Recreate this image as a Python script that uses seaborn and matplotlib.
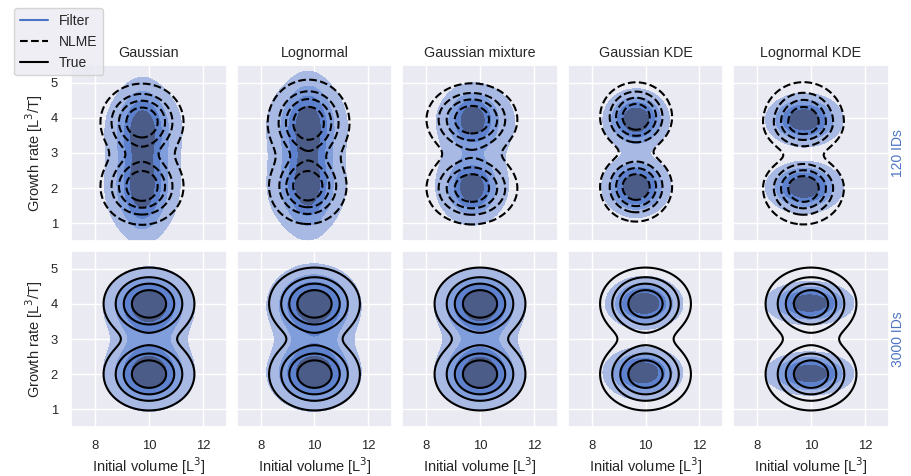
import numpy as np
import matplotlib
matplotlib.use("Agg")
import matplotlib.pyplot as plt
from matplotlib.lines import Line2D
import seaborn as sns

# ---------------- data ----------------
models = ["Gaussian", "Lognormal", "Gaussian mixture", "Gaussian KDE", "Lognormal KDE"]
row_labels = ["120 IDs", "3000 IDs"]
x_ticks = [8, 10, 12]
y_ticks = [1, 2, 3, 4, 5]
x_label = "Initial volume [L$^3$]"
y_label = "Growth rate [L$^3$/T]"
legend_labels = ["Filter", "NLME", "True"]
# contour heights as a fraction of each density's peak
density_levels = [0.12, 0.32, 0.52, 0.74]

# density bumps: (peak height, centre volume, centre growth,
#                 sd volume, sd growth below centre, sd growth above centre)
true_components = [
    (1.0, 10.0, 4.0, 0.82, 0.50, 0.50),
    (1.0, 10.0, 2.0, 0.82, 0.50, 0.50),
]

nlme_gaussian = [(1.0, 9.74, 3.88, 0.75, 0.53, 0.53), (1.0, 9.74, 2.05, 0.75, 0.53, 0.53)]
nlme_lognormal = [(1.0, 9.78, 3.85, 0.74, 0.58, 0.60), (1.0, 9.75, 2.05, 0.70, 0.52, 0.50)]
nlme_mixture = [(1.0, 9.70, 3.95, 0.82, 0.50, 0.50), (1.0, 9.70, 2.00, 0.82, 0.50, 0.50)]
nlme_gauss_kde = [(1.0, 9.65, 4.02, 0.65, 0.46, 0.48), (1.0, 9.65, 2.04, 0.65, 0.48, 0.46)]
nlme_logn_kde = [(1.0, 9.72, 3.88, 0.73, 0.44, 0.55), (1.0, 9.72, 2.00, 0.73, 0.50, 0.44)]

filter120_gaussian = [(0.45, 9.75, 3.70, 0.44, 0.72, 0.72), (0.45, 9.75, 2.00, 0.44, 0.78, 0.72),
                      (0.55, 9.80, 3.70, 0.82, 0.72, 0.72), (0.55, 9.75, 2.00, 0.80, 0.80, 0.72)]
filter120_lognormal = [(0.45, 9.78, 3.80, 0.44, 0.72, 0.74), (0.45, 9.76, 2.05, 0.44, 0.74, 0.72),
                       (0.55, 9.72, 3.80, 0.86, 0.72, 0.76), (0.55, 9.70, 2.05, 0.84, 0.76, 0.72)]
filter120_mixture = [(0.60, 9.70, 3.95, 0.45, 0.42, 0.42), (0.60, 9.70, 2.00, 0.45, 0.42, 0.42),
                     (0.40, 9.85, 3.90, 0.92, 0.65, 0.65), (0.40, 9.70, 2.05, 0.85, 0.65, 0.65)]
filter120_gauss_kde = [(1.0, 9.65, 3.94, 0.60, 0.43, 0.43), (1.0, 9.65, 2.05, 0.62, 0.43, 0.43)]
filter120_logn_kde = [(1.0, 9.75, 3.94, 0.70, 0.37, 0.37), (1.0, 9.75, 2.02, 0.70, 0.36, 0.36)]

filter3000_gaussian = [(1.0, 10.0, 4.0, 0.82, 0.50, 0.52), (1.0, 10.0, 2.0, 0.82, 0.52, 0.50),
                       (0.25, 10.0, 3.0, 0.90, 0.60, 0.60)]
filter3000_lognormal = [(1.0, 9.98, 4.0, 0.85, 0.52, 0.56), (1.0, 9.98, 2.0, 0.85, 0.52, 0.50),
                        (0.25, 10.0, 3.0, 0.90, 0.60, 0.60)]
filter3000_mixture = [(1.0, 10.0, 4.0, 0.82, 0.50, 0.50), (1.0, 10.0, 2.0, 0.82, 0.50, 0.50),
                      (0.20, 10.0, 3.0, 0.90, 0.60, 0.60)]
filter3000_gauss_kde = [(1.0, 9.95, 4.0, 0.70, 0.35, 0.38), (1.0, 9.90, 2.05, 0.72, 0.38, 0.35)]
filter3000_logn_kde = [(1.0, 9.95, 4.02, 0.80, 0.30, 0.30), (1.0, 9.95, 2.02, 0.80, 0.30, 0.30)]

nlme_rows = [nlme_gaussian, nlme_lognormal, nlme_mixture, nlme_gauss_kde, nlme_logn_kde]
filter_rows = [
    [filter120_gaussian, filter120_lognormal, filter120_mixture, filter120_gauss_kde, filter120_logn_kde],
    [filter3000_gaussian, filter3000_lognormal, filter3000_mixture, filter3000_gauss_kde, filter3000_logn_kde],
]

# ---------------- styling ----------------
sns.set_theme(style="darkgrid", context="notebook")
plt.rcParams["font.family"] = ["Liberation Sans", "DejaVu Sans"]
filter_color = "#4c74c4"
band_colors = ["#a8bae4", "#819edc", "#5d81cc", "#4c5c88"]

xg = np.linspace(7.1, 12.9, 400)
yg = np.linspace(0.5, 5.5, 400)
X, Y = np.meshgrid(xg, yg)


def density(components):
    Z = np.zeros_like(X)
    for amp, mx, my, sx, s_lo, s_hi in components:
        sy = np.where(Y < my, s_lo, s_hi)
        Z += amp * np.exp(-0.5 * ((X - mx) / sx) ** 2 - 0.5 * ((Y - my) / sy) ** 2)
    return Z


fig = plt.figure(figsize=(9.12, 4.76), dpi=100)
axes = fig.subplots(2, 5, sharex=True, sharey=True)
fig.subplots_adjust(left=71 / 912, right=889 / 912, top=1 - 65 / 476,
                    bottom=1 - 427 / 476, wspace=0.061, hspace=0.057)

for r in range(2):
    for c in range(5):
        ax = axes[r, c]
        Zf = density(filter_rows[r][c])
        zmax = Zf.max()
        lv = [f * zmax for f in density_levels] + [zmax * 1.0001]
        ax.contourf(X, Y, Zf, levels=lv, colors=band_colors)
        if r == 0:
            Zl = density(nlme_rows[c])
            ls = "--"
        else:
            Zl = density(true_components)
            ls = "-"
        zl = Zl.max()
        ax.contour(X, Y, Zl, levels=[f * zl for f in density_levels],
                   colors="black", linestyles=ls, linewidths=1.5)
        ax.set_xlim(7.1, 12.9)
        ax.set_ylim(0.5, 5.5)
        ax.set_xticks(x_ticks)
        ax.set_yticks(y_ticks)
        ax.tick_params(labelsize=9.4)
        if r == 0:
            ax.set_title(models[c], fontsize=10.3)
        if r == 1:
            ax.set_xlabel(x_label, fontsize=10.5, labelpad=2)
        if c == 0:
            ax.set_ylabel(y_label, fontsize=10.5)
        if c == 4:
            ax.text(1.06, 0.5, row_labels[r], transform=ax.transAxes, rotation=90,
                    ha="center", va="center", color=filter_color, fontsize=10)

handles = [
    Line2D([], [], color=filter_color, lw=1.5),
    Line2D([], [], color="black", lw=1.5, ls="--"),
    Line2D([], [], color="black", lw=1.5, ls="-"),
]
fig.legend(handles, legend_labels, loc="upper left", bbox_to_anchor=(0.008, 0.997),
           fontsize=10, frameon=True)

fig.savefig("out.png", dpi=100)
